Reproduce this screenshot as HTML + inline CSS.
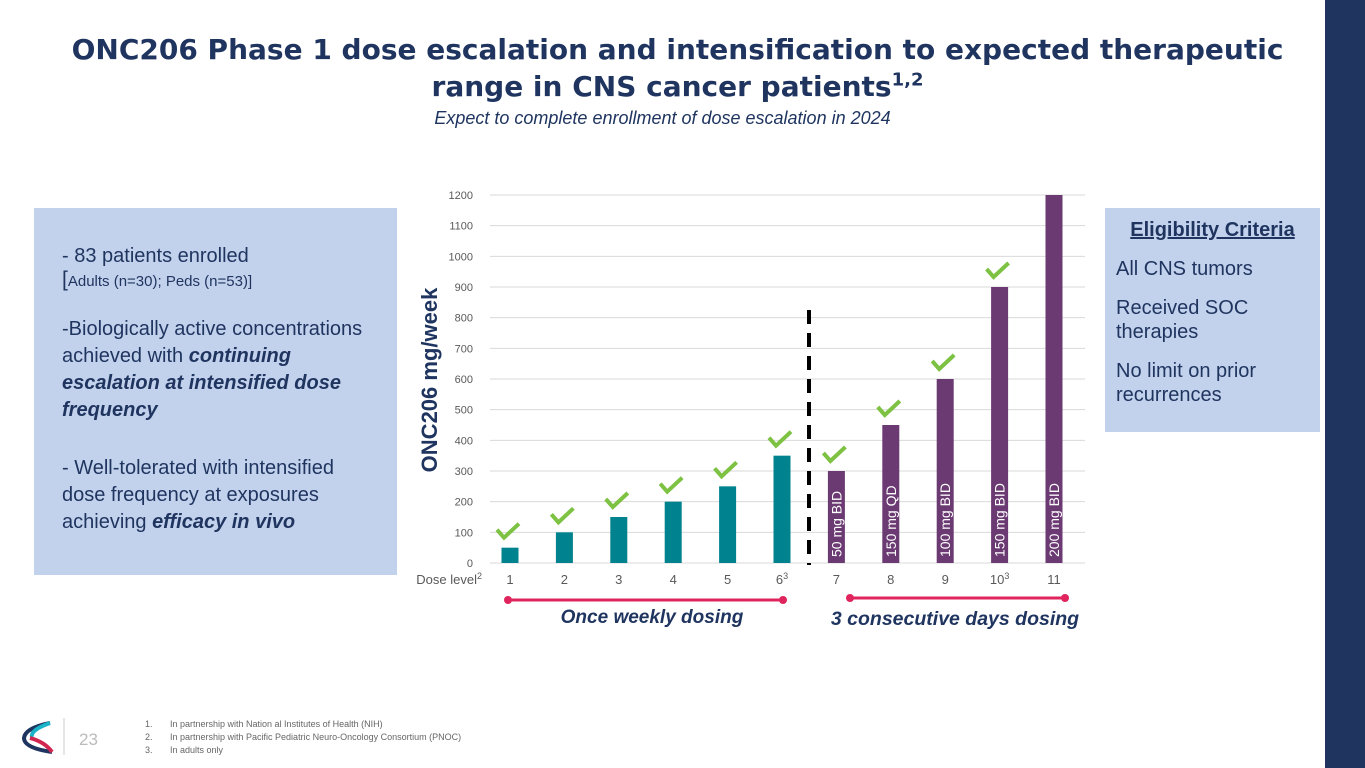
<!DOCTYPE html>
<html><head><meta charset="utf-8"><style>
body{margin:0;width:1365px;height:768px;position:relative;overflow:hidden;background:#fff;font-family:"Liberation Sans",sans-serif;}
.abs{position:absolute;}
h1{position:absolute;left:60px;width:1235px;top:31px;margin:0;text-align:center;color:#1f3560;font-family:"DejaVu Sans","Liberation Sans",sans-serif;font-size:28px;line-height:37px;font-weight:bold;}
</style></head><body>
<div class="abs" style="left:1325px;top:0;width:40px;height:768px;background:#1f3560"></div>
<h1>ONC206 Phase 1 dose escalation and intensification to expected therapeutic range in CNS cancer patients<sup style="font-size:18px;line-height:0">1,2</sup></h1>
<div class="abs" style="left:0;width:1325px;top:108px;text-align:center;font-style:italic;color:#1f3560;font-size:18px">Expect to complete enrollment of dose escalation in 2024</div>
<div class="abs" style="left:34px;top:208px;width:363px;height:367px;background:#c3d2ec;box-sizing:border-box;padding:36px 12px 0 28px;color:#1f3560;font-size:20px;line-height:24px">
<div>- 83 patients enrolled</div><div style="font-size:15px"><span style="font-size:21px">[</span>Adults (n=30); Peds (n=53)]</div>
<div style="margin-top:22px;line-height:27px">-Biologically active concentrations achieved with <b><i>continuing escalation at intensified dose frequency</i></b></div>
<div style="margin-top:31px;line-height:27px">- Well-tolerated with intensified<br>dose frequency at exposures<br>achieving <b><i>efficacy in vivo</i></b></div></div>
<div class="abs" style="left:1105px;top:208px;width:215px;height:224px;background:#c3d2ec;box-sizing:border-box;padding:10px 0 0 11px;color:#1f3560;font-size:20px;line-height:24px">
<div style="font-weight:bold;text-decoration:underline;text-align:center;padding-right:11px">Eligibility Criteria</div>
<div style="margin-top:15px">All CNS tumors</div><div style="margin-top:15px">Received SOC therapies</div><div style="margin-top:15px">No limit on prior recurrences</div></div>
<svg class="abs" style="left:0;top:0" width="1325" height="768">
<g id="g"></g>
<text transform="translate(437,380) rotate(-90)" text-anchor="middle" font-size="22" font-weight="bold" fill="#1f3560">ONC206 mg/week</text>
<line x1="809" y1="310" x2="809" y2="565" stroke="#000" stroke-width="4" stroke-dasharray="14,9"/>
<text x="482" y="584" text-anchor="end" font-size="13" fill="#595959">Dose level<tspan font-size="9" dy="-5">2</tspan></text>
<line x1="508" y1="600" x2="783" y2="600" stroke="#e0245e" stroke-width="3"/>
<circle cx="508" cy="600" r="4" fill="#e0245e"/><circle cx="783" cy="600" r="4" fill="#e0245e"/>
<line x1="850" y1="598" x2="1065" y2="598" stroke="#e0245e" stroke-width="3"/>
<circle cx="850" cy="598" r="4" fill="#e0245e"/><circle cx="1065" cy="598" r="4" fill="#e0245e"/>
<text x="652" y="623" text-anchor="middle" font-size="19" font-weight="bold" font-style="italic" fill="#1f3560">Once weekly dosing</text>
<text x="955" y="625" text-anchor="middle" font-size="19.5" font-weight="bold" font-style="italic" fill="#1f3560">3 consecutive days dosing</text>
<g><path d="M50 723 Q25 728 24 738 Q24 748 52 752" stroke="#1f3560" stroke-width="4" fill="none"/><path d="M50 723 Q30 730 32 737" stroke="#1bb3c8" stroke-width="4" fill="none"/><path d="M30 738 Q45 742 52 752" stroke="#d0264f" stroke-width="4" fill="none"/></g>
<line x1="64" y1="718" x2="64" y2="755" stroke="#ccc"/>
<text x="79" y="745" font-size="17" fill="#bbb">23</text>
<g font-size="9" fill="#666"><text x="145" y="727">1.</text><text x="170" y="727">In partnership with Nation al Institutes of Health (NIH)</text><text x="145" y="740">2.</text><text x="170" y="740">In partnership with Pacific Pediatric Neuro-Oncology Consortium (PNOC)</text><text x="145" y="753">3.</text><text x="170" y="753">In adults only</text></g>
</svg>
<script>
const categories=["1","2","3","4","5","6","7","8","9","10","11"];
const sups=["","","","","","3","","","","3",""];
const values=[50,100,150,200,250,350,300,450,600,900,1200];
const barLabels=["","","","","","","50 mg BID","150 mg QD","100 mg BID","150 mg BID","200 mg BID"];
const checked=[1,1,1,1,1,1,1,1,1,1,0];
const yTicks=[0,100,200,300,400,500,600,700,800,900,1000,1100,1200];
const y=v=>563-v*(368/1200), x=i=>510+i*54.4;
const g=document.getElementById('g'),NS='http://www.w3.org/2000/svg';
function mk(t,a){const e=document.createElementNS(NS,t);for(const k in a)e.setAttribute(k,a[k]);g.appendChild(e);return e;}
yTicks.forEach(t=>{const l=mk('line',{x1:490,x2:1085,y1:y(t),y2:y(t),stroke:'#d9d9d9'});


const tx=mk('text',{x:473,y:y(t)+4,'text-anchor':'end','font-size':11,fill:'#595959'});tx.textContent=t;

});
values.forEach((v,i)=>{const b=mk('rect',{x:x(i)-8.5,y:y(v),width:17,height:y(0)-y(v),fill:i<6?'#00838f':'#6b3a73'});


const t=mk('text',{x:x(i),y:584,'text-anchor':'middle','font-size':13,fill:'#595959'});t.innerHTML=categories[i]+(sups[i]?'<tspan font-size="9" dy="-5">'+sups[i]+'</tspan>':'');


if(barLabels[i]){const l=mk('text',{transform:`translate(${x(i)+5},${y(0)-6}) rotate(-90)`,'font-size':14,fill:'#fff'});l.textContent=barLabels[i];

}
if(checked[i]){const cy=y(v)-12,cx=x(i)-4;const c=mk('path',{d:`M${cx-9} ${cy-6} L${cx-2} ${cy+2} L${cx+13} ${cy-12}`,stroke:'#7dc242','stroke-width':4,fill:'none'});

}});
</script>
</body></html>
